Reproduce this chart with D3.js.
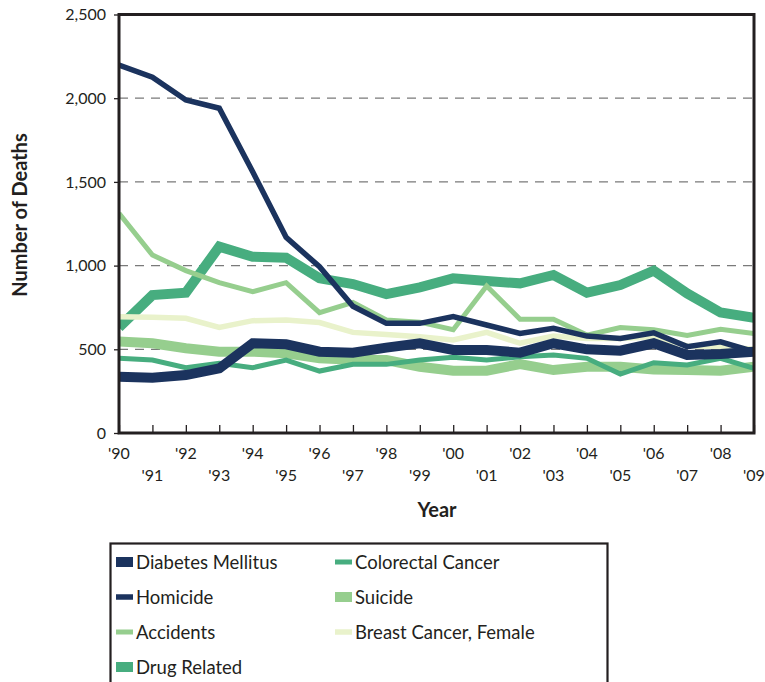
<!DOCTYPE html>
<html><head><meta charset="utf-8">
<script src="https://cdn.jsdelivr.net/npm/d3@7"></script>
<style>
html,body{margin:0;padding:0;background:#fff;}
svg{display:block;}
text{font-family:Lato,"Open Sans",sans-serif;fill:#231f20;}
</style></head>
<body>
<svg id="chart" width="765" height="682"></svg>
<script>
const years = [1990,1991,1992,1993,1994,1995,1996,1997,1998,1999,2000,2001,2002,2003,2004,2005,2006,2007,2008,2009];
const yTicks = [0,500,1000,1500,2000,2500];
const diabetes   = [336,330,346,386,536,530,486,480,510,536,496,496,480,536,500,492,536,466,472,486];
const homicide   = [2198,2125,1989,1940,1561,1169,993,757,655,655,695,645,595,625,579,565,599,516,545,486];
const accidents  = [1312,1063,970,898,844,898,719,780,675,662,617,878,679,679,585,630,617,582,620,595];
const drug       = [630,824,838,1113,1053,1047,924,890,830,870,924,908,894,944,838,884,970,834,720,688];
const colorectal = [446,436,390,416,390,436,370,410,410,436,452,436,456,466,446,352,420,406,446,386];
const suicide    = [546,536,506,486,486,476,446,438,436,396,372,372,412,376,396,396,380,376,372,396];
const breast     = [695,691,685,631,671,675,660,601,589,575,556,601,536,579,565,565,575,520,516,500];

const navy = "#1b335e", green = "#47ad7f", light = "#96ce8e", pale = "#e9f2cb";
// draw order (bottom to top)
const series = [
  {name:"Drug Related", values:drug, color:green, w:10},
  {name:"Breast Cancer, Female", values:breast, color:pale, w:5.5},
  {name:"Suicide", values:suicide, color:light, w:10},
  {name:"Accidents", values:accidents, color:light, w:5},
  {name:"Colorectal Cancer", values:colorectal, color:green, w:5},
  {name:"Homicide", values:homicide, color:navy, w:5.5},
  {name:"Diabetes Mellitus", values:diabetes, color:navy, w:10}
];
const legendOrder = ["Diabetes Mellitus","Colorectal Cancer","Homicide","Suicide","Accidents","Breast Cancer, Female","Drug Related"];

const svg = d3.select("#chart");
const L = 119, R = 754, T = 14.5, B = 433;
const x = d3.scaleLinear().domain([1990,2009]).range([L,R]);
const y = d3.scaleLinear().domain([0,2500]).range([B,T]);

// gridlines
svg.append("g").selectAll("line").data(yTicks.filter(d=>d>0 && d<2500)).join("line")
  .attr("x1",L).attr("x2",R).attr("y1",d=>y(d)).attr("y2",d=>y(d))
  .attr("stroke","#7a7a7a").attr("stroke-width",1.3).attr("stroke-dasharray","9,7");

// lines
const line = d3.line().x((d,i)=>x(years[i])).y(d=>y(d)).curve(d3.curveLinear);
svg.append("clipPath").attr("id","clip").append("rect")
  .attr("x",L).attr("y",T).attr("width",R-L).attr("height",B-T);
svg.append("g").attr("clip-path","url(#clip)").selectAll("path").data(series).join("path")
  .attr("d",d=>line(d.values)).attr("fill","none")
  .attr("stroke",d=>d.color).attr("stroke-width",d=>d.w)
  .attr("stroke-linejoin","miter").attr("stroke-miterlimit",3);

// y axis
const yAxis = d3.axisLeft(y).tickValues(yTicks).tickSize(5).tickPadding(8).tickFormat(d3.format(","));
const yg = svg.append("g").attr("transform",`translate(${L},0)`).call(yAxis);
yg.select(".domain").remove();
yg.selectAll(".tick line").attr("stroke","#231f20").attr("stroke-width",1.3);
yg.selectAll(".tick text").attr("font-size",16).attr("font-family","Lato, sans-serif").attr("fill","#231f20");

// x axis: inner ticks
const xAxis = d3.axisBottom(x).tickValues(years).tickSize(-8).tickFormat("");
const xg = svg.append("g").attr("transform",`translate(0,${B})`).call(xAxis);
xg.select(".domain").remove();
xg.selectAll(".tick line").attr("stroke","#231f20").attr("stroke-width",1.3);
svg.append("g").selectAll("text").data(years).join("text")
  .attr("x",d=>x(d)).attr("y",(d,i)=> i%2===0 ? 459 : 481)
  .attr("text-anchor","middle").attr("font-size",16)
  .text(d=>"'"+String(d).slice(2));

// frame
svg.append("rect").attr("x",L).attr("y",T).attr("width",R-L).attr("height",B-T)
  .attr("fill","none").attr("stroke","#231f20").attr("stroke-width",3);

// axis titles
svg.append("text").attr("x",437).attr("y",517).attr("text-anchor","middle")
  .attr("font-size",20).attr("font-weight","bold").text("Year");
svg.append("text").attr("transform","translate(27,215) rotate(-90)").attr("text-anchor","middle")
  .attr("font-size",20).attr("font-weight","bold").text("Number of Deaths");

// legend
const lg = svg.append("g");
lg.append("rect").attr("x",110.5).attr("y",543.5).attr("width",497).attr("height",160)
  .attr("fill","none").attr("stroke","#231f20").attr("stroke-width",2.2);
const byName = Object.fromEntries(series.map(s=>[s.name,s]));
legendOrder.forEach((n,i)=>{
  const s = byName[n];
  const col = i%2, row = Math.floor(i/2);
  const sx = col===0 ? 116 : 335, cy = 562 + row*35;
  lg.append("rect").attr("x",sx).attr("y",cy - s.w/2).attr("width",17).attr("height",s.w).attr("fill",s.color);
  lg.append("text").attr("x",sx+20).attr("y",cy).attr("dy","0.36em").attr("font-size",18.5).text(n);
});
</script>
</body></html>
